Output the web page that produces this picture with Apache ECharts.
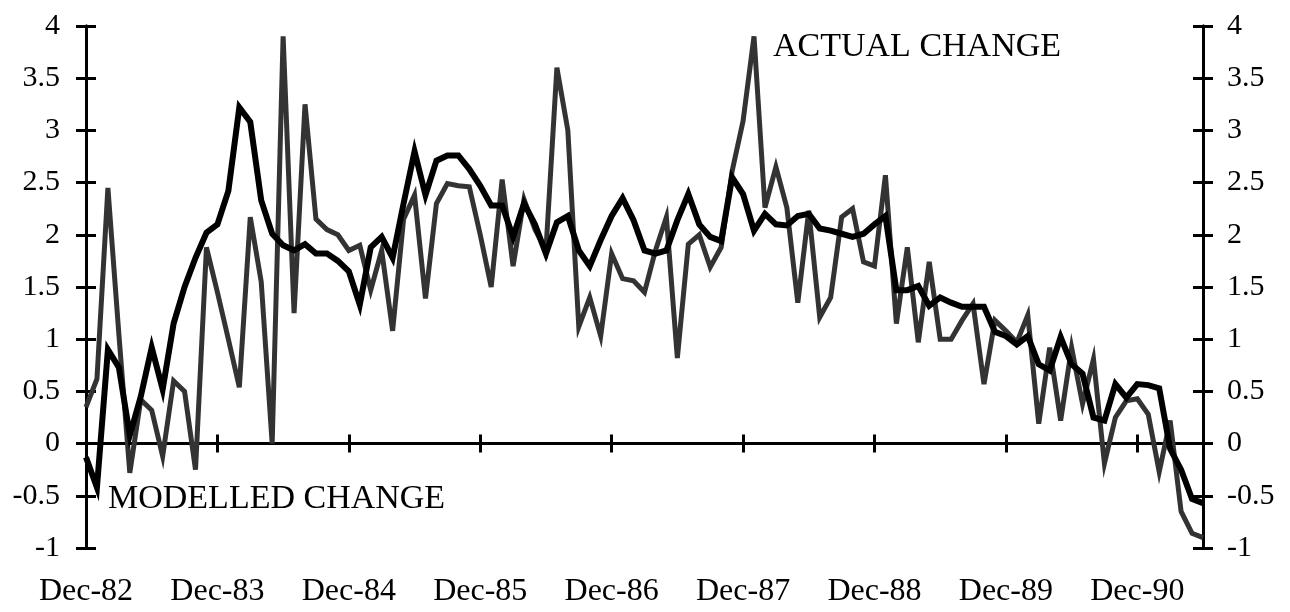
<!DOCTYPE html>
<html>
<head>
<meta charset="utf-8">
<script src="https://cdn.jsdelivr.net/npm/echarts@6/dist/echarts.min.js"></script>
<style>
  html, body { margin: 0; padding: 0; background: #fff; }
  #chart { width: 1290px; height: 612px; }
</style>
</head>
<body>
<div id="chart"></div>
<script>
// Monthly series, December 1982 to June 1991
const startYear = 1982;
const startMonth = 11; // December (0-based)
const monthNames = ['Jan', 'Feb', 'Mar', 'Apr', 'May', 'Jun', 'Jul', 'Aug', 'Sep', 'Oct', 'Nov', 'Dec'];

const actualChange = [
  0.35, 0.62, 2.45, 1.05, -0.28, 0.42, 0.32, -0.12, 0.60, 0.50, -0.25, 1.88,
  1.45, 1.00, 0.54, 2.17, 1.55, 0.00, 3.90, 1.25, 3.25, 2.15, 2.05, 2.00,
  1.85, 1.90, 1.47, 1.85, 1.08, 2.15, 2.38, 1.39, 2.30, 2.49, 2.47, 2.46,
  2.00, 1.50, 2.53, 1.70, 2.34, 2.05, 1.85, 3.60, 3.00, 1.12, 1.40, 1.03,
  1.82, 1.58, 1.56, 1.45, 1.85, 2.17, 0.82, 1.91, 2.00, 1.69, 1.88, 2.61,
  3.09, 3.90, 2.26, 2.65, 2.26, 1.35, 2.23, 1.21, 1.40, 2.17, 2.25, 1.74,
  1.70, 2.57, 1.15, 1.88, 0.97, 1.74, 1.00, 1.00, 1.18, 1.34, 0.57, 1.18,
  1.08, 0.97, 1.23, 0.19, 0.92, 0.22, 0.92, 0.38, 0.81, -0.19, 0.25, 0.41,
  0.43, 0.28, -0.27, 0.22, -0.65, -0.86, -0.90
];

const modelledChange = [
  -0.13, -0.42, 0.90, 0.73, 0.08, 0.45, 0.92, 0.52, 1.15, 1.50, 1.78, 2.02,
  2.10, 2.42, 3.22, 3.08, 2.33, 2.01, 1.90, 1.85, 1.91, 1.82, 1.82, 1.75,
  1.65, 1.33, 1.88, 1.98, 1.78, 2.30, 2.80, 2.38, 2.71, 2.76, 2.76, 2.63,
  2.47, 2.28, 2.28, 1.98, 2.30, 2.10, 1.82, 2.12, 2.18, 1.85, 1.70, 1.95,
  2.18, 2.35, 2.14, 1.85, 1.82, 1.85, 2.14, 2.39, 2.10, 1.98, 1.94, 2.55,
  2.39, 2.04, 2.20, 2.10, 2.09, 2.18, 2.20, 2.06, 2.04, 2.01, 1.98, 2.01,
  2.10, 2.18, 1.47, 1.47, 1.51, 1.32, 1.40, 1.35, 1.31, 1.31, 1.31, 1.07,
  1.03, 0.95, 1.03, 0.76, 0.70, 1.02, 0.76, 0.67, 0.25, 0.22, 0.57, 0.44,
  0.57, 0.56, 0.53, -0.05, -0.25, -0.53, -0.57
];

// Category labels such as "Dec-82"
const months = actualChange.map(function (_, i) {
  const m = (startMonth + i) % 12;
  const y = startYear + Math.floor((startMonth + i) / 12);
  return monthNames[m] + '-' + String(y % 100).padStart(2, '0');
});

const yMin = -1, yMax = 4, yStep = 0.5;
const serif = '"Liberation Serif", "DejaVu Serif", serif';
const isDecember = function (index) { return index % 12 === 0; };

const lineW = 3;
function valueAxis(position, ticksInside, showLabels) {
  return {
    type: 'value',
    position: position,
    min: yMin, max: yMax, interval: yStep,
    axisLine: { show: true, onZero: false, lineStyle: { color: '#000', width: lineW } },
    axisTick: { show: true, inside: ticksInside, length: 10, lineStyle: { color: '#000', width: lineW } },
    axisLabel: {
      show: showLabels,
      color: '#000',
      fontFamily: serif,
      fontSize: 30,
      margin: position === 'left' ? 26 : 24
    },
    splitLine: { show: false }
  };
}

function categoryAxis(position, opts) {
  return Object.assign({
    type: 'category',
    position: position,
    data: months,
    boundaryGap: false,
    splitLine: { show: false }
  }, opts);
}

const chart = echarts.init(document.getElementById('chart'), null, { renderer: 'canvas' });

chart.setOption({
  animation: false,
  backgroundColor: '#fff',
  grid: { left: 86, right: 87, top: 26, bottom: 64 },
  xAxis: [
    // zero line with downward ticks at each December
    categoryAxis('bottom', {
      axisLine: { show: true, onZero: true, onZeroAxisIndex: 0, lineStyle: { color: '#000', width: lineW } },
      axisTick: { show: true, interval: isDecember, length: 9, lineStyle: { color: '#000', width: lineW } },
      axisLabel: { show: false }
    }),
    // upward half of the same ticks
    categoryAxis('top', {
      axisLine: { show: false, onZero: true, onZeroAxisIndex: 0 },
      axisTick: { show: true, interval: isDecember, length: 9, lineStyle: { color: '#000', width: lineW } },
      axisLabel: { show: false }
    }),
    // year labels along the bottom edge
    categoryAxis('bottom', {
      axisLine: { show: false, onZero: false },
      axisTick: { show: false },
      axisLabel: {
        show: true,
        interval: isDecember,
        color: '#000',
        fontFamily: serif,
        fontSize: 32,
        margin: 28
      }
    })
  ],
  yAxis: [
    valueAxis('left', false, true),
    valueAxis('right', false, true),
    valueAxis('left', true, false),
    valueAxis('right', true, false)
  ],
  series: [
    {
      name: 'ACTUAL CHANGE',
      type: 'line',
      data: actualChange,
      xAxisIndex: 0,
      yAxisIndex: 0,
      showSymbol: false,
      symbol: 'none',
      lineStyle: { color: '#333', width: 5, join: 'miter', miterLimit: 6 },
      z: 3
    },
    {
      name: 'MODELLED CHANGE',
      type: 'line',
      data: modelledChange,
      xAxisIndex: 0,
      yAxisIndex: 0,
      showSymbol: false,
      symbol: 'none',
      lineStyle: { color: '#000', width: 6, join: 'miter', miterLimit: 6 },
      z: 4
    }
  ],
  graphic: [
    {
      type: 'text',
      x: 773, y: 47,
      style: { text: 'ACTUAL CHANGE', font: '34px ' + serif, fill: '#000', verticalAlign: 'middle' }
    },
    {
      type: 'text',
      x: 108, y: 499,
      style: { text: 'MODELLED CHANGE', font: '34px ' + serif, fill: '#000', verticalAlign: 'middle' }
    }
  ]
});
</script>
</body>
</html>
